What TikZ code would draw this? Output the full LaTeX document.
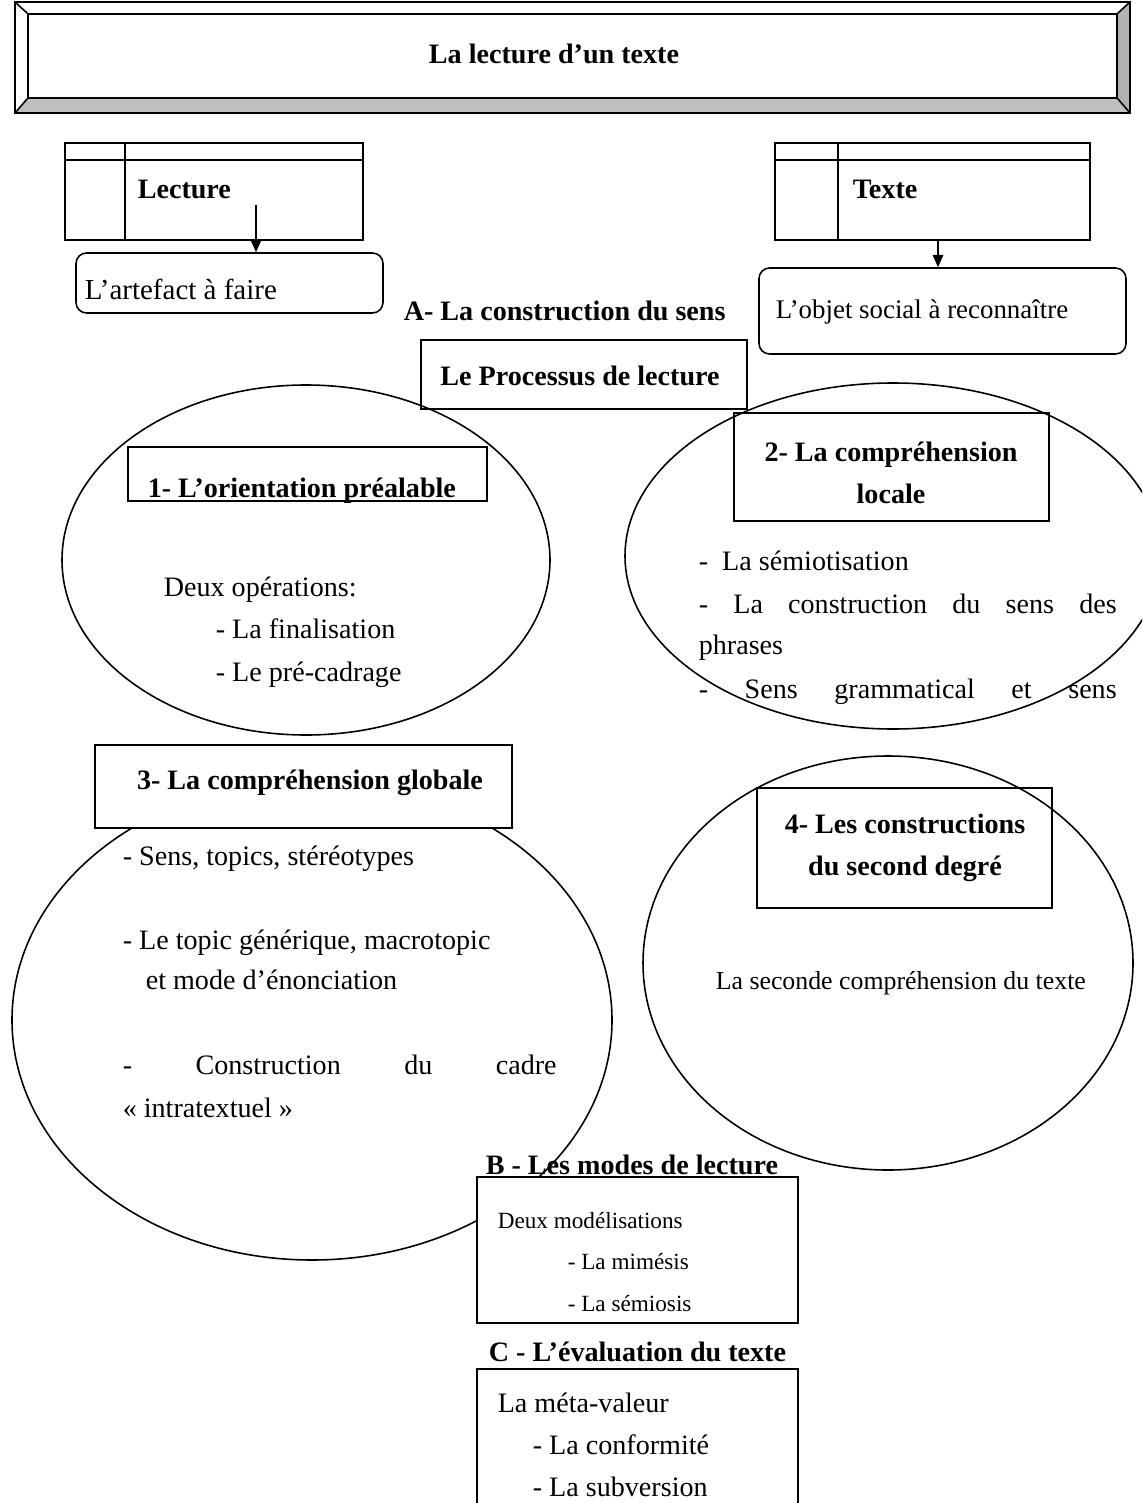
\documentclass[tikz,border=0pt]{standalone}
\usepackage{fontspec}
\setmainfont{Liberation Serif}
\usetikzlibrary{arrows.meta,fit}

\tikzset{
  cadre/.style={draw,inner sep=0pt},
  arrondi/.style={cadre,rounded corners=6pt},
  corps/.style={inner sep=0pt,anchor=base west,font=\fontsize{16}{24}\selectfont},
  petit/.style={corps,font=\fontsize{13.2}{20}\selectfont},
  gras/.style={corps,font=\fontsize{16}{24}\selectfont\bfseries},
  titre/.style={inner sep=0pt,font=\fontsize{16}{23.8}\selectfont\bfseries},
}

\begin{document}
\begin{tikzpicture}[x=0.02cm,y=-0.02cm,line width=0.9pt,>={Triangle[length=7pt,width=6pt]}]
  \useasboundingbox (0,0) rectangle (1142,1503);
  \clip (0,0) rectangle (1142,1503);
  % bandeau du titre
  \fill[gray!50] (15,113) -- (28,98) -- (1117,98) -- (1130,113) -- cycle;
  \fill[gray!60] (1130,2) -- (1117,14) -- (1117,98) -- (1130,113) -- cycle;
  \draw (15,2) rectangle (1130,113);
  \node[cadre,fit={(28,14) (1117,98)}] (bandeau) {};
  \draw (15,2) -- (bandeau.north west) (1130,2) -- (bandeau.north east)
        (15,113) -- (bandeau.south west) (1130,113) -- (bandeau.south east);
  \node[titre,anchor=base] (titre) at (554,64) {La lecture d’un texte};

  % lecture / texte
  \node[cadre,fit={(65,143) (363,240)}] (lecture) {};
  \draw (65,160) -- (363,160) (125,143) -- (125,240);
  \node[gras] (lec) at (137,199) {Lecture};
  \node[cadre,fit={(775,143) (1090,240)}] (texte) {};
  \draw (775,160) -- (1090,160) (838,143) -- (838,240);
  \node[gras] (tex) at (852,199) {Texte};

  \node[arrondi,fit={(76,253) (383,313)}] (artefact) {};
  \node[corps,font=\fontsize{16.5}{24}\selectfont] (art) at (84,300) {L’artefact à faire};
  \node[arrondi,fit={(759,268) (1126,354)}] (objet) {};
  \node[corps,font=\fontsize{15.3}{24}\selectfont] (obj) at (775,319) {L’objet social à reconnaître};
  \coordinate (lecdep) at (256,205);
  \coordinate (texdep) at (938,240);
  \draw[->] (lecdep) -- (lecdep |- artefact.north);
  \draw[->] (texdep) -- (texdep |- objet.north);

  \node[gras] (partA) at (403,321) {A- La construction du sens};
  \node[cadre,fit={(421,340) (747,409)}] (processus) {};
  \node[titre,anchor=base] (proc) at (580,386) {Le Processus de lecture};

  % les quatre ellipses
  \draw (306,560) ellipse [x radius=244,y radius=175];
  \draw (893,556) ellipse [x radius=268,y radius=173];
  \draw (312,1020) ellipse [x radius=300,y radius=240];
  \draw (888,963) ellipse [x radius=245,y radius=207];

  \node[cadre,fit={(128,447) (487,501)}] (orient) {};
  \node[gras] (ori) at (147,497) {1- L’orientation préalable};
  \fill[white] (140,503) rectangle (475,512);
  \node[cadre,fit={(734,413) (1049,521)}] (locale) {};
  \node[titre,align=center] (loc) at (891,473) {2- La compréhension\\locale};
  \node[cadre,fill=white,fit={(95,745) (512,828)}] (globale) {};
  \node[titre,anchor=base] (glo) at (310,789) {3- La compréhension globale};
  \node[cadre,fit={(757,788) (1052,908)}] (second) {};
  \node[titre,align=center] (sec) at (905,848) {4- Les constructions\\du second degré};
  \node[cadre,fill=white,fit={(477,1177) (798,1323)}] (modes) {};
  \node[cadre,fill=white,fit={(477,1369) (798,1530)}] (evaluation) {};

  \node[corps] (deux) at (163,596) {Deux opérations:};
  \node[corps] (fin) at (215,638) {- La finalisation};
  \node[corps] (cad) at (215,681) {- Le pré-cadrage};

  \node[corps] (semio) at (698,570) {-\ \ La sémiotisation};
  \node[corps] (cons) at (698,613) {\makebox[8.36cm][s]{- La construction du sens des}};
  \node[corps] (phr) at (698,654) {phrases};
  \node[corps] (gram) at (698,698) {\makebox[8.36cm][s]{- Sens grammatical et sens}};

  \node[corps] (topi) at (122,865) {- Sens, topics, stéréotypes};
  \node[corps] (gene) at (122,949) {- Le topic générique, macrotopic};
  \node[corps] (enon) at (145,989) {et mode d’énonciation};
  \node[corps] (intra1) at (122,1074) {\makebox[8.68cm][s]{- Construction du cadre}};
  \node[corps] (intra2) at (122,1117) {« intratextuel »};

  \node[corps,font=\fontsize{14.7}{20}\selectfont] (seconde) at (715,989) {La seconde compréhension du texte};

  \node[gras] (partB) at (485,1174) {\underline{B - Les modes de lecture}};
  \node[petit] (modl) at (497,1228) {Deux modélisations};
  \node[petit] (mime) at (567,1269) {- La mimésis};
  \node[petit] (semi) at (567,1311) {- La sémiosis};

  \node[gras] (partC) at (488,1361) {C - L’évaluation du texte};
  \node[corps] (meta) at (497,1412) {La méta-valeur};
  \node[corps] (conf) at (532,1454) {- La conformité};
  \node[corps] (subv) at (532,1496) {- La subversion};
\end{tikzpicture}
\end{document}
